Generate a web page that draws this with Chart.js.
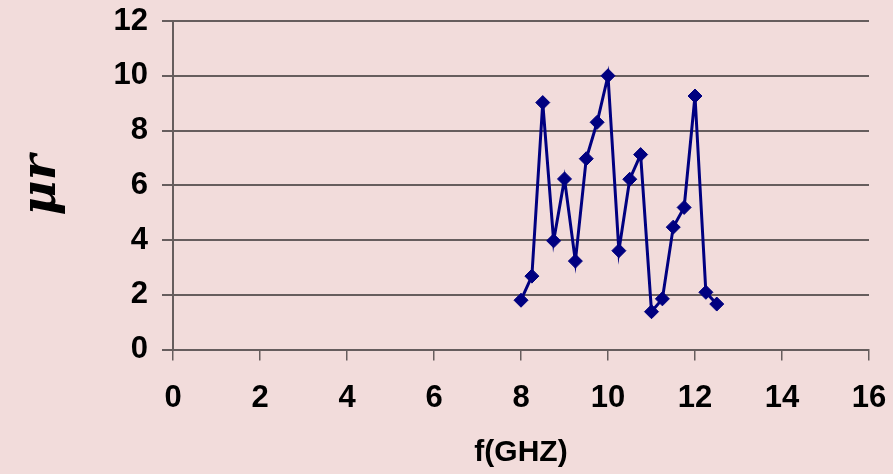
<!DOCTYPE html>
<html>
<head>
<meta charset="utf-8">
<script src="https://cdn.jsdelivr.net/npm/chart.js@4/dist/chart.umd.min.js"></script>
<style>
    html, body { margin: 0; padding: 0; background: #F2DCDB; }
    #grafico { display: block; }
</style>
</head>
<body>
<canvas id="grafico" width="893" height="474"></canvas>
<script>
// frequencias (GHz) e valores
const frequencias = [8, 8.25, 8.5, 8.75, 9, 9.25, 9.5, 9.75, 10, 10.25, 10.5, 10.75, 11, 11.25, 11.5, 11.75, 12, 12.25, 12.5];
const valores = [1.8, 2.68, 9.02, 3.97, 6.23, 3.23, 6.97, 8.3, 10.0, 3.61, 6.22, 7.12, 1.38, 1.85, 4.47, 5.19, 9.26, 2.09, 1.66];

const tituloX = 'f(GHZ)';
const tituloY = 'μr';

const pontos = frequencias.map(function (f, i) {
    return { x: f, y: valores[i] };
});

const corGrade = '#665d5d';

const fundo = {
    id: 'fundo',
    beforeDraw: function (chart) {
        const ctx = chart.ctx;
        ctx.save();
        ctx.fillStyle = '#F2DCDB';
        ctx.fillRect(0, 0, chart.width, chart.height);
        ctx.restore();
    }
};

const config_grafico = {
    type: 'scatter',
    data: {
        datasets: [
            {
                data: pontos,
                showLine: true,
                borderColor: '#000080',
                backgroundColor: '#000080',
                borderWidth: 3,
                pointStyle: 'rectRot',
                pointRadius: 7,
                pointBorderWidth: 1,
                tension: 0
            }
        ]
    },
    options: {
        responsive: false,
        animation: false,
        layout: {
            padding: { top: 21, right: 24, left: 0, bottom: 0 }
        },
        scales: {
            x: {
                type: 'linear',
                min: 0,
                max: 16,
                afterFit: function (scale) {
                    scale.height = 124.5;
                    scale.paddingLeft = 0;
                    scale.paddingRight = 0;
                },
                grid: {
                    drawOnChartArea: false,
                    drawTicks: true,
                    tickLength: 11,
                    color: corGrade,
                    lineWidth: 1.5
                },
                border: { color: corGrade, width: 2 },
                ticks: {
                    stepSize: 2,
                    padding: 19,
                    color: '#000',
                    font: { size: 31, family: 'Liberation Sans', weight: 'bold' }
                },
                title: {
                    display: true,
                    text: tituloX,
                    color: '#000',
                    padding: { top: 0, bottom: 3 },
                    font: { size: 30, family: 'Liberation Sans', weight: 'bold' }
                }
            },
            y: {
                min: 0,
                max: 12,
                afterFit: function (scale) {
                    scale.width = 173;
                    scale.paddingTop = 0;
                    scale.paddingBottom = 0;
                },
                grid: {
                    drawTicks: true,
                    tickLength: 11,
                    color: corGrade,
                    lineWidth: 2
                },
                border: { color: corGrade, width: 2 },
                ticks: {
                    stepSize: 2,
                    padding: 14,
                    color: '#000',
                    font: { size: 31, family: 'Liberation Sans', weight: 'bold' }
                },
                title: {
                    display: true,
                    text: tituloY,
                    color: '#000',
                    padding: { top: 14, bottom: 0 },
                    font: { size: 48, family: 'DejaVu Serif', weight: 'bold', style: 'italic' }
                }
            }
        },
        plugins: {
            legend: { display: false },
            tooltip: { enabled: false }
        }
    },
    plugins: [fundo]
};

const grafico = new Chart(document.getElementById('grafico'), config_grafico);
</script>
</body>
</html>
